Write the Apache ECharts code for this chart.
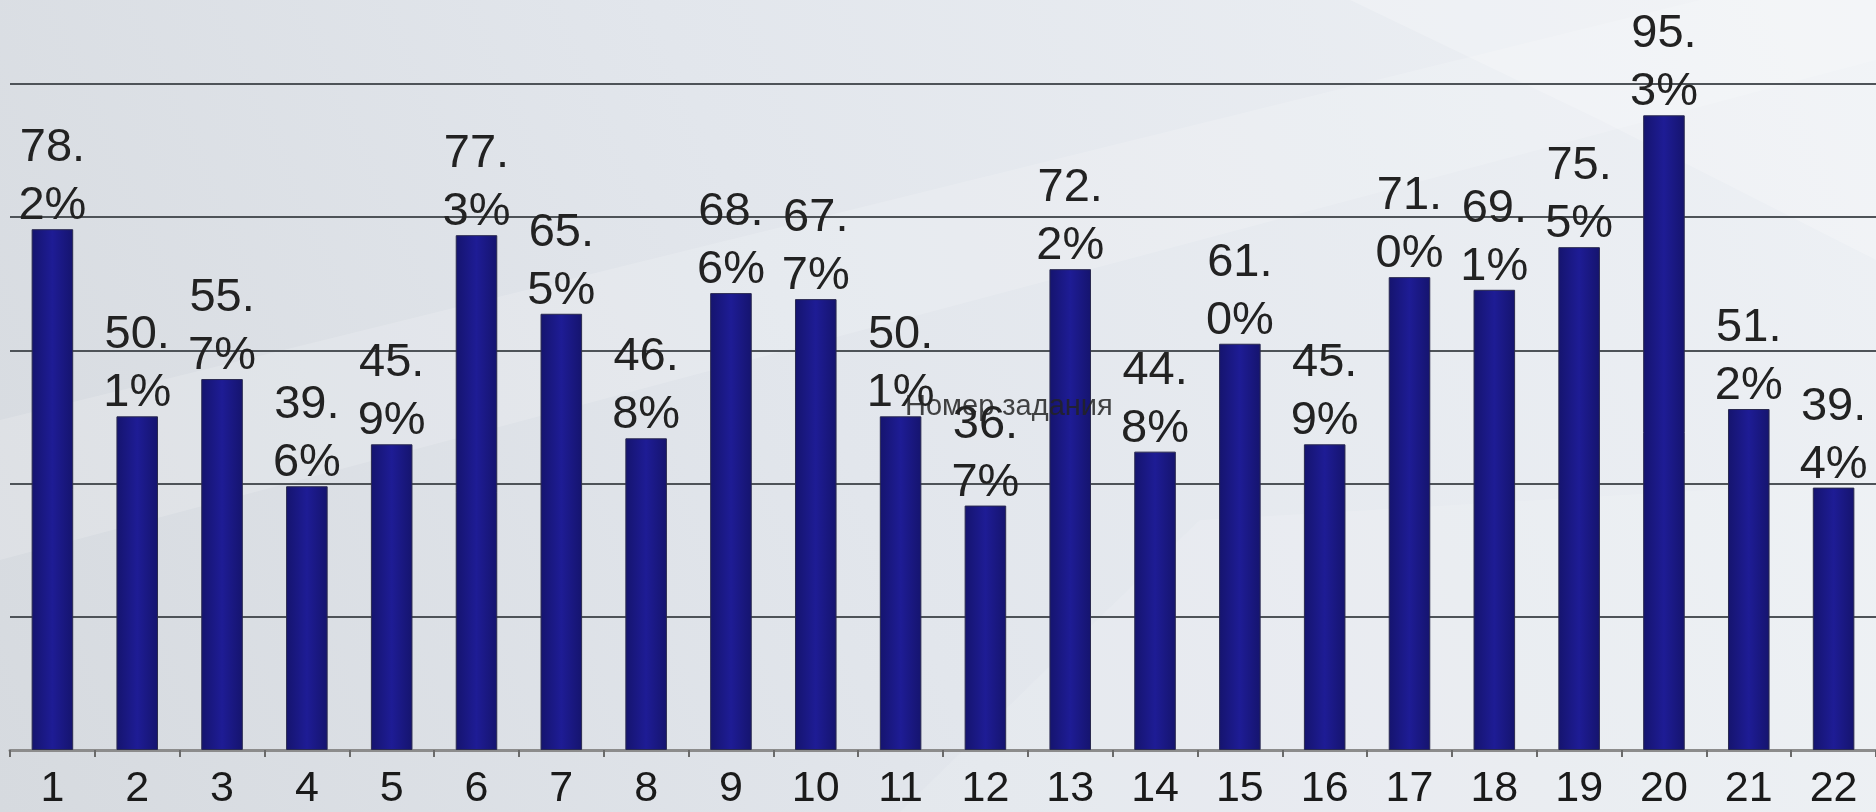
<!DOCTYPE html>
<html>
<head>
<meta charset="utf-8">
<script src="https://cdn.jsdelivr.net/npm/echarts@6/dist/echarts.min.js"></script>
<style>
html,body{margin:0;padding:0;}
#chart{width:1876px;height:812px;}
</style>
</head>
<body>
<div id="chart"></div>
<script>
const categories = ['1','2','3','4','5','6','7','8','9','10','11','12','13','14','15','16','17','18','19','20','21','22'];
const values = [78.2, 50.1, 55.7, 39.6, 45.9, 77.3, 65.5, 46.8, 68.6, 67.7, 50.1, 36.7, 72.2, 44.8, 61.0, 45.9, 71.0, 69.1, 75.5, 95.3, 51.2, 39.4];
const axisName = 'Номер задания';

const chart = echarts.init(document.getElementById('chart'), null, {renderer: 'canvas'});
const FONT = '"Liberation Sans", Arial, sans-serif';

chart.setOption({
  backgroundColor: {
    type: 'linear', x: 0, y: 1, x2: 1, y2: 0,
    colorStops: [
      {offset: 0, color: '#d6dadf'},
      {offset: 0.45, color: '#e2e6ec'},
      {offset: 1, color: '#eef1f5'}
    ]
  },
  graphic: [
    {type: 'polygon', silent: true, z: -10,
     shape: {points: [[0, 420], [0, 560], [1876, 60], [1876, 0], [1700, 0]]},
     style: {fill: 'rgba(255,255,255,0.16)'}},
    {type: 'polygon', silent: true, z: -10,
     shape: {points: [[1350, 0], [1876, 0], [1876, 260], [1600, 120]]},
     style: {fill: 'rgba(255,255,255,0.22)'}},
    {type: 'polygon', silent: true, z: -10,
     shape: {points: [[900, 812], [1876, 812], [1876, 480], [1200, 520]]},
     style: {fill: 'rgba(255,255,255,0.12)'}},
    {type: 'text', left: 905, top: 392, z: 10,
     style: {text: axisName, fill: 'rgba(35,35,35,0.85)', font: '29px ' + FONT}}
  ],
  grid: {left: 10, right: -4, top: 84, bottom: 62, containLabel: false},
  xAxis: {
    type: 'category',
    data: categories,
    axisLine: {lineStyle: {color: '#8c8c8c', width: 3}},
    axisTick: {show: true, length: 7, lineStyle: {color: '#6a6a6a', width: 2}},
    axisLabel: {color: '#1a1a1a', fontSize: 43, fontFamily: FONT, margin: 18, interval: 0}
  },
  yAxis: {
    type: 'value',
    min: 0, max: 100, interval: 20,
    axisLabel: {show: false},
    axisLine: {show: false},
    axisTick: {show: false},
    splitLine: {lineStyle: {color: '#4e5358', width: 2}}
  },
  series: [{
    type: 'bar',
    data: values,
    barWidth: '49%',
    itemStyle: {
      color: {
        type: 'linear', x: 0, y: 0, x2: 1, y2: 0,
        colorStops: [
          {offset: 0, color: '#15146e'},
          {offset: 0.5, color: '#1e1c95'},
          {offset: 1, color: '#15146e'}
        ]
      },
      borderColor: '#2a2a50',
      borderWidth: 1
    },
    label: {
      show: true,
      position: 'top',
      distance: -6,
      color: '#222',
      fontSize: 47,
      lineHeight: 58,
      fontFamily: FONT,
      formatter: function (p) {
        const s = p.value.toFixed(1).split('.');
        return s[0] + '.\n' + s[1] + '%';
      }
    }
  }]
});
</script>
</body>
</html>
